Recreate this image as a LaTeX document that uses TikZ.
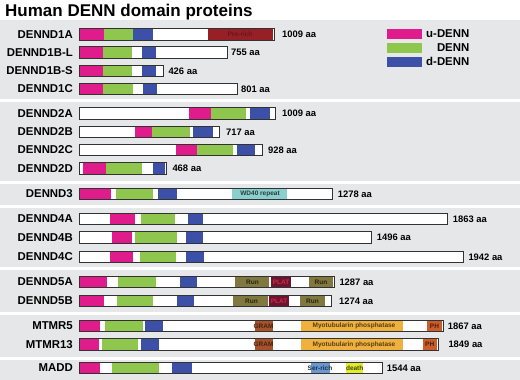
\documentclass[tikz,border=0pt]{standalone}
\usepackage{fontspec}
\setmainfont{Liberation Sans}

\definecolor{panelgray}{RGB}{230,231,232}
\definecolor{bardark}{RGB}{50,50,50}
\definecolor{udennc}{RGB}{224,28,140}
\definecolor{dennc}{RGB}{142,198,78}
\definecolor{ddennc}{RGB}{60,80,168}
\definecolor{prorichc}{RGB}{150,32,38}
\definecolor{wdc}{RGB}{138,206,206}
\definecolor{runc}{RGB}{128,120,62}
\definecolor{platc}{RGB}{108,20,48}
\definecolor{plattext}{RGB}{210,40,72}
\definecolor{gramc}{RGB}{168,82,44}
\definecolor{myoc}{RGB}{240,176,62}
\definecolor{phc}{RGB}{204,92,42}
\definecolor{serc}{RGB}{104,152,210}
\definecolor{deathc}{RGB}{226,238,44}

\begin{document}
\begin{tikzpicture}[
        x=1pt, y=-1pt,
        panel/.style={fill=panelgray},
        bar/.style={draw=bardark, line width=1pt},
        udenn/.style={fill=udennc},
        denn/.style={fill=dennc},
        ddenn/.style={fill=ddennc},
        protname/.style={font=\fontsize{11.4}{13}\selectfont\bfseries, anchor=east, inner sep=0pt},
        aalen/.style={font=\fontsize{9.4}{11}\selectfont\bfseries, anchor=west, inner sep=0pt},
        dlabel/.style={font=\fontsize{6.5}{7}\selectfont\bfseries, inner sep=0pt}
    ]
        \useasboundingbox (0,0) rectangle (520,380);
        \node[font=\fontsize{17}{20}\selectfont\bfseries, anchor=base west, inner sep=0pt] (title) at (5,16.7) {Human DENN domain proteins};

        % grey panels
        \fill[panel] (0,20) rectangle (520,99);
        \fill[panel] (0,102) rectangle (520,181);
        \fill[panel] (0,184) rectangle (520,205);
        \fill[panel] (0,208) rectangle (520,267);
        \fill[panel] (0,270) rectangle (520,312);
        \fill[panel] (0,315) rectangle (520,357);
        \fill[panel] (0,360) rectangle (520,380);

        % legend
        \fill[udenn] (386.7,29.3) rectangle (422.3,39);
        \fill[denn] (386.7,43.3) rectangle (422.3,52.7);
        \fill[ddenn] (386.7,56.7) rectangle (422.3,66.7);
        \node[protname] (keyu) at (469.5,34) {u-DENN};
        \node[protname] (keyd) at (469.5,48) {DENN};
        \node[protname] (keydd) at (469.5,61.5) {d-DENN};

        % DENND1
        \begin{scope}[shift={(0,34.5)}]
            \fill[white] (79,-5.8) rectangle (274,5.8);
            \fill[udenn] (79,-5.8) rectangle (104,5.8);
            \fill[denn] (104,-5.8) rectangle (133.3,5.8);
            \fill[ddenn] (133.3,-5.8) rectangle (153.3,5.8);
            \fill[prorichc] (208,-5.8) rectangle (272.5,5.8);
            \node[dlabel, text=prorichc!70!black] (prorich) at (240,0) {Pro-rich};
            \draw[bar] (79,-5.8) rectangle (274,5.8);
            \node[protname] (d1a) at (73,0) {DENND1A};
            \node[aalen] (l1a) at (282,0) {1009 aa};
        \end{scope}
        \begin{scope}[shift={(0,52.5)}]
            \fill[white] (79,-5.8) rectangle (227,5.8);
            \fill[udenn] (79,-5.8) rectangle (103.3,5.8);
            \fill[denn] (103.3,-5.8) rectangle (131.7,5.8);
            \fill[ddenn] (141.7,-5.8) rectangle (156,5.8);
            \draw[bar] (79,-5.8) rectangle (227,5.8);
            \node[protname] (d1bl) at (73,0) {DENND1B-L};
            \node[aalen] (l1bl) at (231,0) {755 aa};
        \end{scope}
        \begin{scope}[shift={(0,71)}]
            \fill[white] (79,-5.8) rectangle (163.3,5.8);
            \fill[udenn] (79,-5.8) rectangle (103.3,5.8);
            \fill[denn] (103.3,-5.8) rectangle (132,5.8);
            \fill[ddenn] (142,-5.8) rectangle (156,5.8);
            \draw[bar] (79,-5.8) rectangle (163.3,5.8);
            \node[protname] (d1bs) at (73,0) {DENND1B-S};
            \node[aalen] (l1bs) at (168.3,0) {426 aa};
        \end{scope}
        \begin{scope}[shift={(0,89)}]
            \fill[white] (79,-5.8) rectangle (237,5.8);
            \fill[udenn] (79,-5.8) rectangle (103.3,5.8);
            \fill[denn] (103.3,-5.8) rectangle (132.7,5.8);
            \fill[ddenn] (142.7,-5.8) rectangle (156.7,5.8);
            \draw[bar] (79,-5.8) rectangle (237,5.8);
            \node[protname] (d1c) at (73,0) {DENND1C};
            \node[aalen] (l1c) at (241,0) {801 aa};
        \end{scope}

        % DENND2
        \begin{scope}[shift={(0,113.5)}]
            \fill[white] (79,-5.8) rectangle (275.5,5.8);
            \fill[udenn] (189.3,-5.8) rectangle (210.7,5.8);
            \fill[denn] (210.7,-5.8) rectangle (245.7,5.8);
            \fill[ddenn] (250,-5.8) rectangle (270,5.8);
            \draw[bar] (79,-5.8) rectangle (275.5,5.8);
            \node[protname] (d2a) at (73,0) {DENND2A};
            \node[aalen] (l2a) at (282,0) {1009 aa};
        \end{scope}
        \begin{scope}[shift={(0,132)}]
            \fill[white] (79,-5.8) rectangle (219,5.8);
            \fill[udenn] (135,-5.8) rectangle (151.7,5.8);
            \fill[denn] (151.7,-5.8) rectangle (190,5.8);
            \fill[ddenn] (192.7,-5.8) rectangle (212.7,5.8);
            \draw[bar] (79,-5.8) rectangle (219,5.8);
            \node[protname] (d2b) at (73,0) {DENND2B};
            \node[aalen] (l2b) at (226,0) {717 aa};
        \end{scope}
        \begin{scope}[shift={(0,150)}]
            \fill[white] (79,-5.8) rectangle (262,5.8);
            \fill[udenn] (175.7,-5.8) rectangle (197.3,5.8);
            \fill[denn] (197.3,-5.8) rectangle (232.7,5.8);
            \fill[ddenn] (237.3,-5.8) rectangle (255,5.8);
            \draw[bar] (79,-5.8) rectangle (262,5.8);
            \node[protname] (d2c) at (73,0) {DENND2C};
            \node[aalen] (l2c) at (268,0) {928 aa};
        \end{scope}
        \begin{scope}[shift={(0,168.5)}]
            \fill[white] (79,-5.8) rectangle (166,5.8);
            \fill[udenn] (83.3,-5.8) rectangle (106,5.8);
            \fill[denn] (106,-5.8) rectangle (141.7,5.8);
            \fill[ddenn] (152.7,-5.8) rectangle (165,5.8);
            \draw[bar] (79,-5.8) rectangle (166,5.8);
            \node[protname] (d2d) at (73,0) {DENND2D};
            \node[aalen] (l2d) at (172.3,0) {468 aa};
        \end{scope}

        % DENND3
        \begin{scope}[shift={(0,194)}]
            \fill[white] (79,-5.8) rectangle (332.7,5.8);
            \fill[udenn] (79,-5.8) rectangle (111,5.8);
            \fill[denn] (116,-5.8) rectangle (152.7,5.8);
            \fill[ddenn] (158.3,-5.8) rectangle (176.7,5.8);
            \fill[wdc] (232.3,-5.8) rectangle (286.7,5.8);
            \node[dlabel, text=wdc!30!black] (wd40) at (260,0) {WD40 repeat};
            \draw[bar] (79,-5.8) rectangle (332.7,5.8);
            \node[protname] (d3) at (73,0) {DENND3};
            \node[aalen] (l3) at (337.7,0) {1278 aa};
        \end{scope}

        % DENND4
        \begin{scope}[shift={(0,219)}]
            \fill[white] (79,-5.8) rectangle (447.3,5.8);
            \fill[udenn] (110,-5.8) rectangle (135,5.8);
            \fill[denn] (141,-5.8) rectangle (175,5.8);
            \fill[ddenn] (188.3,-5.8) rectangle (203.3,5.8);
            \draw[bar] (79,-5.8) rectangle (447.3,5.8);
            \node[protname] (d4a) at (73,0) {DENND4A};
            \node[aalen] (l4a) at (452.7,0) {1863 aa};
        \end{scope}
        \begin{scope}[shift={(0,237.5)}]
            \fill[white] (79,-5.8) rectangle (371,5.8);
            \fill[udenn] (112.3,-5.8) rectangle (132.3,5.8);
            \fill[denn] (135,-5.8) rectangle (177.3,5.8);
            \fill[ddenn] (185.7,-5.8) rectangle (203.3,5.8);
            \draw[bar] (79,-5.8) rectangle (371,5.8);
            \node[protname] (d4b) at (73,0) {DENND4B};
            \node[aalen] (l4b) at (376.7,0) {1496 aa};
        \end{scope}
        \begin{scope}[shift={(0,257)}]
            \fill[white] (79,-5.8) rectangle (463,5.8);
            \fill[udenn] (110,-5.8) rectangle (132.7,5.8);
            \fill[denn] (140,-5.8) rectangle (175.7,5.8);
            \fill[ddenn] (185.7,-5.8) rectangle (204,5.8);
            \draw[bar] (79,-5.8) rectangle (463,5.8);
            \node[protname] (d4c) at (73,0) {DENND4C};
            \node[aalen] (l4c) at (468.3,0) {1942 aa};
        \end{scope}

        % DENND5
        \begin{scope}[shift={(0,282)}]
            \fill[white] (79,-5.8) rectangle (334,5.8);
            \fill[udenn] (79,-5.8) rectangle (107.3,5.8);
            \fill[denn] (117.7,-5.8) rectangle (155.7,5.8);
            \fill[ddenn] (180,-5.8) rectangle (197.3,5.8);
            \fill[runc] (235,-5.8) rectangle (269,5.8);
            \fill[platc] (270.5,-5.8) rectangle (291,5.8);
            \fill[runc] (309.3,-5.8) rectangle (333,5.8);
            \node[dlabel, text=runc!30!black] (run5a) at (252.5,0) {Run};
            \node[dlabel, text=plattext] (plat5a) at (281,0) {PLAT};
            \node[dlabel, text=runc!30!black] (runc5a) at (321,0) {Run};
            \draw[bar] (79,-5.8) rectangle (334,5.8);
            \node[protname] (d5a) at (73,0) {DENND5A};
            \node[aalen] (l5a) at (339.3,0) {1287 aa};
        \end{scope}
        \begin{scope}[shift={(0,301)}]
            \fill[white] (79,-5.8) rectangle (331.7,5.8);
            \fill[udenn] (79,-5.8) rectangle (104.3,5.8);
            \fill[denn] (116.7,-5.8) rectangle (153.3,5.8);
            \fill[ddenn] (176.7,-5.8) rectangle (194.3,5.8);
            \fill[runc] (233.3,-5.8) rectangle (268.3,5.8);
            \fill[platc] (269,-5.8) rectangle (289,5.8);
            \fill[runc] (300,-5.8) rectangle (325,5.8);
            \node[dlabel, text=runc!30!black] (run5b) at (251.5,0) {Run};
            \node[dlabel, text=plattext] (plat5b) at (279,0) {PLAT};
            \node[dlabel, text=runc!30!black] (runc5b) at (312.5,0) {Run};
            \draw[bar] (79,-5.8) rectangle (331.7,5.8);
            \node[protname] (d5b) at (73,0) {DENND5B};
            \node[aalen] (l5b) at (339,0) {1274 aa};
        \end{scope}

        % MTMR
        \begin{scope}[shift={(0,326)}]
            \fill[white] (79,-5.8) rectangle (443.3,5.8);
            \fill[udenn] (79,-5.8) rectangle (100,5.8);
            \fill[denn] (105.3,-5.8) rectangle (142.7,5.8);
            \fill[ddenn] (145,-5.8) rectangle (162.7,5.8);
            \fill[gramc] (255,-5.8) rectangle (273,5.8);
            \fill[myoc] (300.7,-5.8) rectangle (402.7,5.8);
            \fill[phc] (427.3,-5.8) rectangle (441.7,5.8);
            \node[dlabel, text=gramc!40!black] (gram5) at (263.5,0) {GRAM};
            \node[dlabel, text=myoc!35!black] (myo5) at (354,0) {Myotubularin phosphatase};
            \node[dlabel, text=phc!35!black] (ph5) at (434.5,0) {PH};
            \draw[bar] (79,-5.8) rectangle (443.3,5.8);
            \node[protname] (mt5) at (73,0) {MTMR5};
            \node[aalen] (lmt5) at (447.7,0) {1867 aa};
        \end{scope}
        \begin{scope}[shift={(0,344.5)}]
            \fill[white] (79,-5.8) rectangle (438.3,5.8);
            \fill[udenn] (79,-5.8) rectangle (99.3,5.8);
            \fill[denn] (101.7,-5.8) rectangle (138.3,5.8);
            \fill[ddenn] (141,-5.8) rectangle (159.3,5.8);
            \fill[gramc] (255,-5.8) rectangle (273,5.8);
            \fill[myoc] (300.7,-5.8) rectangle (402.7,5.8);
            \fill[phc] (422.7,-5.8) rectangle (436.7,5.8);
            \node[dlabel, text=gramc!40!black] (gram13) at (263.5,0) {GRAM};
            \node[dlabel, text=myoc!35!black] (myo13) at (354,0) {Myotubularin phosphatase};
            \node[dlabel, text=phc!35!black] (ph13) at (429.7,0) {PH};
            \draw[bar] (79,-5.8) rectangle (438.3,5.8);
            \node[protname] (mt13) at (73,0) {MTMR13};
            \node[aalen] (lmt13) at (448.3,0) {1849 aa};
        \end{scope}

        % MADD
        \begin{scope}[shift={(0,368)}]
            \fill[white] (79,-5.8) rectangle (382.7,5.8);
            \fill[udenn] (79,-5.8) rectangle (100,5.8);
            \fill[denn] (111.7,-5.8) rectangle (159.3,5.8);
            \fill[ddenn] (171.7,-5.8) rectangle (192.3,5.8);
            \fill[serc] (311,-5.8) rectangle (330,5.8);
            \fill[deathc] (346,-5.8) rectangle (363.3,5.8);
            \node[dlabel, text=serc!30!black] (ser) at (320,0) {Ser-rich};
            \node[dlabel, text=deathc!30!black] (death) at (354.7,0) {death};
            \draw[bar] (79,-5.8) rectangle (382.7,5.8);
            \node[protname] (madd) at (73,0) {MADD};
            \node[aalen] (lmadd) at (386.7,0) {1544 aa};
        \end{scope}
    \end{tikzpicture}
\end{document}
